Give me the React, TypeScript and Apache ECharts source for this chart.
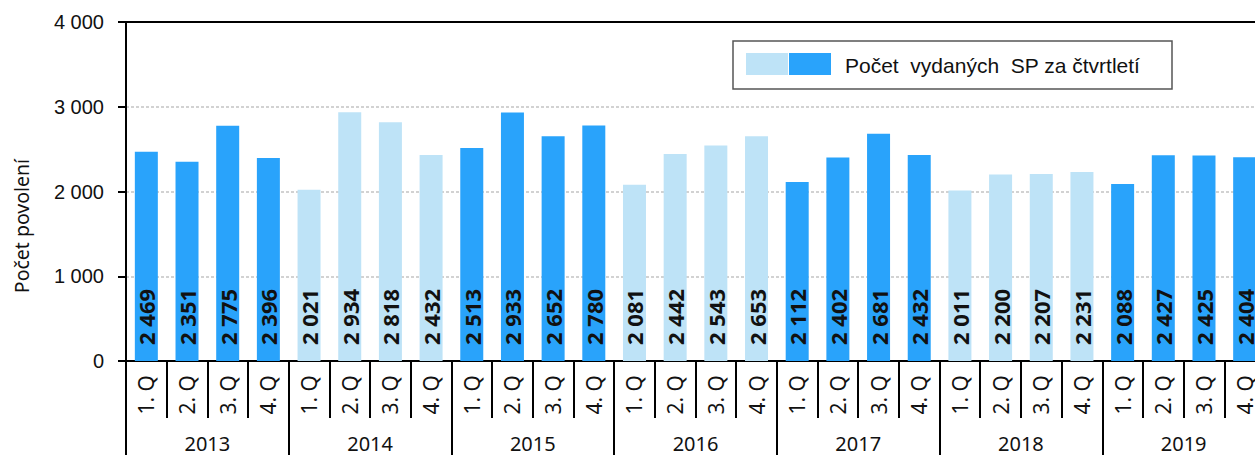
import React, { useEffect, useRef } from "react";
import * as echarts from "echarts";

const years = ["2013", "2014", "2015", "2016", "2017", "2018", "2019"];
const quarters = ["1. Q", "2. Q", "3. Q", "4. Q"];
const values = [
  2469, 2351, 2775, 2396,
  2021, 2934, 2818, 2432,
  2513, 2933, 2652, 2780,
  2081, 2442, 2543, 2653,
  2112, 2402, 2681, 2432,
  2011, 2200, 2207, 2231,
  2088, 2427, 2425, 2404,
];
const yTicks = [0, 1000, 2000, 3000, 4000];
const legendLabel = "Počet  vydaných  SP za čtvrtletí";
const yAxisTitle = "Počet povolení";

const DARK = "#29A3FB";
const LIGHT = "#BEE3F7";

const fmt = (v: number) => {
  const s = String(v);
  if (s.length <= 3) return s;
  return s.slice(0, s.length - 3) + " " + s.slice(s.length - 3);
};

export default function App() {
  const ref = useRef<HTMLDivElement>(null);
  useEffect(() => {
    if (!ref.current) return;
    const chart = echarts.init(ref.current, null, { renderer: "svg" });
    const cats: string[] = [];
    years.forEach((y) => quarters.forEach((q) => cats.push(y + "|" + q)));
    const data = values.map((v, i) => {
      const yi = Math.floor(i / quarters.length);
      return { value: v, itemStyle: { color: yi % 2 === 0 ? DARK : LIGHT } };
    });
    chart.setOption({
      animation: false,
      grid: {
        left: 126,
        top: 22,
        right: 15,
        bottom: 94,
        show: true,
        borderColor: "#000",
        borderWidth: 2,
        backgroundColor: "transparent",
      },
      xAxis: [
        {
          type: "category",
          data: cats,
          position: "bottom",
          axisLine: { show: true, lineStyle: { color: "#000", width: 2 } },
          axisTick: {
            show: true,
            interval: 0,
            length: 57,
            lineStyle: { color: "#000", width: 2 },
          },
          axisLabel: {
            interval: 0,
            rotate: 90,
            margin: 14,
            fontFamily: "Noto Sans",
            fontSize: 21,
            color: "#111",
            formatter: (v: string) => v.split("|")[1],
          },
        },
        {
          type: "category",
          data: years,
          position: "bottom",
          axisLine: { show: false },
          axisTick: {
            show: true,
            interval: 0,
            length: 110,
            lineStyle: { color: "#000", width: 2 },
          },
          axisLabel: {
            interval: 0,
            margin: 72,
            fontFamily: "Noto Sans",
            fontSize: 20,
            color: "#111",
            verticalAlign: "top",
          },
        },
      ],
      yAxis: {
        type: "value",
        min: yTicks[0],
        max: yTicks[yTicks.length - 1],
        interval: yTicks[1] - yTicks[0],
        axisLine: { show: true, lineStyle: { color: "#000", width: 2 } },
        axisTick: { show: true, length: 8, lineStyle: { color: "#000", width: 2 } },
        axisLabel: {
          margin: 22,
          fontFamily: "Liberation Sans",
          fontSize: 20,
          color: "#111",
          formatter: (v: number) => fmt(v),
        },
        splitLine: {
          show: true,
          showMaxLine: false,
          showMinLine: false,
          lineStyle: { color: "#c4c4c4", width: 1.5, type: [3, 2] },
        },
      },
      series: [
        {
          type: "bar",
          xAxisIndex: 0,
          data,
          barWidth: 23,
          label: {
            show: true,
            position: "insideBottom",
            rotate: 90,
            align: "left",
            verticalAlign: "middle",
            distance: 16,
            fontFamily: "Noto Sans",
            fontWeight: "bold",
            fontSize: 22,
            color: "#111",
            formatter: (p: any) => fmt(p.value),
          },
        },
      ],
      graphic: [
        {
          type: "text",
          x: 21,
          y: 226,
          rotation: Math.PI / 2,
          style: {
            text: yAxisTitle,
            fontFamily: "Noto Sans",
            fontSize: 19.5,
            fill: "#111",
            textAlign: "center",
            textVerticalAlign: "middle",
          },
        },
        {
          type: "rect",
          shape: { x: 733, y: 41, width: 439, height: 48 },
          style: { fill: "#fff", stroke: "#555", lineWidth: 1.5 },
        },
        {
          type: "rect",
          shape: { x: 746, y: 53, width: 42, height: 22 },
          style: { fill: LIGHT },
        },
        {
          type: "rect",
          shape: { x: 789, y: 53, width: 42, height: 22 },
          style: { fill: DARK },
        },
        {
          type: "text",
          x: 845,
          y: 65,
          style: {
            text: legendLabel,
            fontFamily: "Liberation Sans",
            fontSize: 21,
            fill: "#111",
            textAlign: "left",
            textVerticalAlign: "middle",
          },
        },
      ],
    });
    return () => chart.dispose();
  }, []);
  return (
    <div
      style={{
        position: "absolute",
        left: 0,
        top: 0,
        width: 1255,
        height: 455,
        overflow: "hidden",
        background: "#fff",
      }}
    >
      <div ref={ref} style={{ width: 1280, height: 455 }} />
    </div>
  );
}
